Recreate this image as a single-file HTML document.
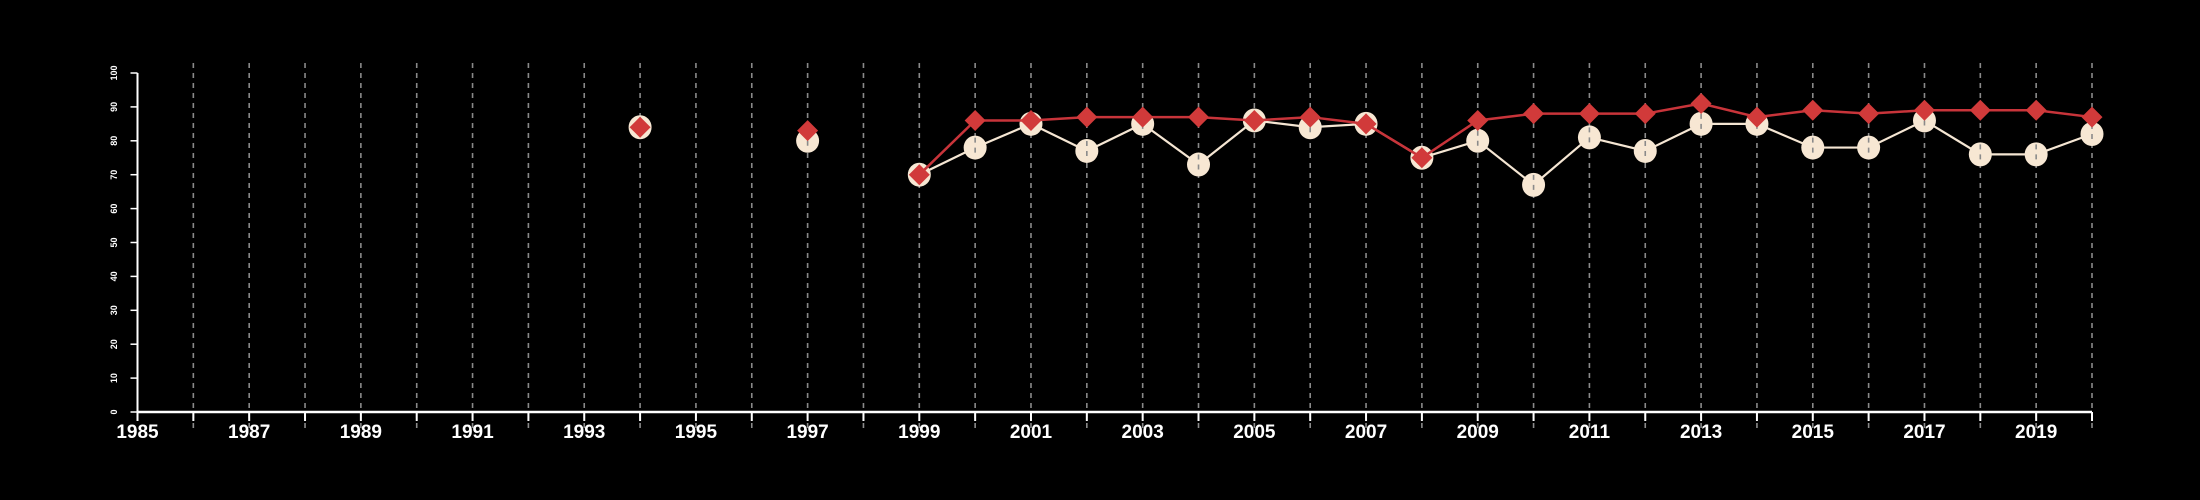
<!DOCTYPE html>
<html><head><meta charset="utf-8"><style>
html,body{margin:0;padding:0;background:#000;}
svg{display:block;}
</style></head><body>
<svg id="chart" width="2200" height="500" xmlns="http://www.w3.org/2000/svg">
<rect width="2200" height="500" fill="#000"/>
<g id="grid"></g>
<g id="axes"></g>
<g id="series"></g>
</svg>
<script>
const years = [1994,1997,1999,2000,2001,2002,2003,2004,2005,2006,2007,2008,2009,2010,2011,2012,2013,2014,2015,2016,2017,2018,2019,2020];
const redValues = [84,83,70,86,86,87,87,87,86,87,85,75,86,88,88,88,91,87,89,88,89,89,89,87];
const creamValues = [84,80,70,78,85,77,85,73,86,84,85,75,80,67,81,77,85,85,78,78,86,76,76,82];
const yTicks = [0,10,20,30,40,50,60,70,80,90,100];
const xLabelYears = [1985,1987,1989,1991,1993,1995,1997,1999,2001,2003,2005,2007,2009,2011,2013,2015,2017,2019];
const xMin = 1985, xMax = 2020, yMin = 0, yMax = 100;

const NS = 'http://www.w3.org/2000/svg';
const L = 137.5, R = 2092, T = 73, B = 412;
function xs(v){ return L + (v - xMin) / (xMax - xMin) * (R - L); }
function ys(v){ return B - (v - yMin) / (yMax - yMin) * (B - T); }
function mk(tag, attrs, parent){
  const e = document.createElementNS(NS, tag);
  for (const k in attrs) e.setAttribute(k, attrs[k]);
  parent.appendChild(e);
  return e;
}
const grid = document.getElementById('grid');
const axes = document.getElementById('axes');
const series = document.getElementById('series');

for (let y = xMin + 1; y <= xMax; y++) {
  const g = mk('line', {x1: xs(y), x2: xs(y), y1: 63, y2: 428, stroke: '#8a8a8a', 'stroke-width': 1.6, 'stroke-dasharray': '5,5'}, grid);
  
  
}
const xa = mk('line', {x1: L, x2: R, y1: B, y2: B, stroke: '#fff', 'stroke-width': 2.5}, axes);


const ya = mk('line', {x1: L, x2: L, y1: T, y2: B, stroke: '#fff', 'stroke-width': 2}, axes);


for (let y = xMin; y <= xMax; y++) {
  const t = mk('line', {x1: xs(y), x2: xs(y), y1: B, y2: B + 9, stroke: '#fff', 'stroke-width': 2}, axes);
  
  
}
xLabelYears.forEach(y => {
  const t = mk('text', {x: xs(y), y: 438, fill: '#fff', 'font-family': '"Liberation Sans Narrow","Liberation Sans",sans-serif', 'font-weight': 'bold', 'font-size': 19, 'text-anchor': 'middle'}, axes);
  t.textContent = y;
  
  
});
yTicks.forEach(v => {
  const t = mk('line', {x1: L - 7, x2: L, y1: ys(v), y2: ys(v), stroke: '#fff', 'stroke-width': 1.5}, axes);
  
  
  const tx = mk('text', {x: 0, y: 0, fill: '#fff', 'font-family': '"Liberation Sans",sans-serif', 'font-weight': 'bold', 'font-size': 9, 'text-anchor': 'middle', transform: 'translate(117,' + ys(v) + ') rotate(-90)'}, axes);
  tx.textContent = v;
  
  
});

function segments(vals){
  const segs = []; let cur = [];
  for (let i = 0; i < years.length; i++) {
    if (i > 0 && years[i] - years[i-1] !== 1) { segs.push(cur); cur = []; }
    cur.push([xs(years[i]), ys(vals[i])]);
  }
  segs.push(cur);
  return segs.filter(s => s.length > 1);
}
segments(creamValues).forEach(s => {
  const p = mk('polyline', {points: s.map(q => q.join(',')).join(' '), fill: 'none', stroke: '#f5e6d3', 'stroke-width': 2.2}, series);
  
  
});
years.forEach((y, i) => {
  const c = mk('ellipse', {cx: xs(y), cy: ys(creamValues[i]), rx: 11.5, ry: 12, fill: '#f7e7d3'}, series);
  
  
  const d = mk('line', {x1: xs(y), x2: xs(y), y1: ys(creamValues[i]) - 10, y2: ys(creamValues[i]) + 10, stroke: '#8a8a8a', 'stroke-width': 1.6, 'stroke-dasharray': '5,5'}, series);
  
  
});
segments(redValues).forEach(s => {
  const p = mk('polyline', {points: s.map(q => q.join(',')).join(' '), fill: 'none', stroke: '#c8343a', 'stroke-width': 2.5}, series);
  
  
});
years.forEach((y, i) => {
  const cx = xs(y), cy = ys(redValues[i]), r = 10.5;
  const d = mk('polygon', {points: `${cx},${cy-r} ${cx+r},${cy} ${cx},${cy+r} ${cx-r},${cy}`, fill: '#d13a3a'}, series);
  
  
});
</script>
</body></html>
